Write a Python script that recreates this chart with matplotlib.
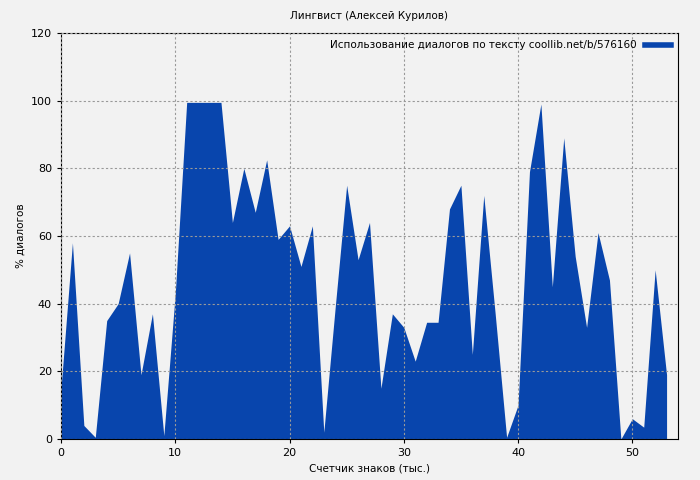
import matplotlib
matplotlib.use("Agg")
import matplotlib.pyplot as plt

x = list(range(0, 54))
y = [15, 58, 4, 0.5, 35, 40, 55, 19, 37, 1, 43, 99.5, 99.5, 99.5, 99.5, 64, 80, 67, 82.5, 59,
     63, 51, 63, 2, 39, 75, 53, 64, 15, 37, 33, 23, 34.5, 34.5, 68, 75, 25, 72, 37, 0.5,
     10, 79, 99, 45, 89, 54, 33, 61, 47, 0, 6, 3.5, 50, 19]

color = "#0845ad"
fig = plt.figure(figsize=(7, 4.8), dpi=100, facecolor="#f2f2f2")
ax = fig.add_axes([61/700, 41/480, (678-61)/700, (439-33)/480])
ax.set_facecolor("#f2f2f2")
ax.fill_between(x, y, 0, color=color, linewidth=0, label="Использование диалогов по тексту coollib.net/b/576160")
ax.set_xlim(0, 54)
ax.set_ylim(0, 120)
ax.set_xticks(range(0, 51, 10))
ax.set_yticks(range(0, 121, 20))
ax.grid(True, color="#999999", linestyle=(0, (2, 2)), linewidth=0.8)
ax.set_axisbelow(False)
ax.tick_params(labelsize=8, length=3)
ax.set_xlabel("Счетчик знаков (тыс.)", fontsize=7.5)
ax.set_ylabel("% диалогов", fontsize=7.5)
fig.text(0.527, 0.96, "Лингвист (Алексей Курилов)", ha="center", fontsize=7.5)
from matplotlib.lines import Line2D
ax.legend(handles=[Line2D([0], [0], color=color, linewidth=4)],
          labels=["Использование диалогов по тексту coollib.net/b/576160"],
          loc="upper right", frameon=False, fontsize=7.5, markerfirst=False,
          handlelength=2.5, borderaxespad=0.3)
for l in ax.get_lines():
    pass
fig.savefig("out.png", dpi=100, facecolor=fig.get_facecolor())
